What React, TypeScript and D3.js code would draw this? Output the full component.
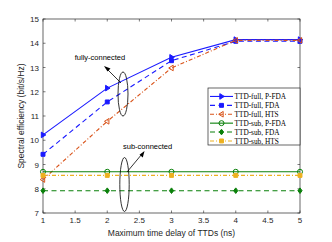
import * as d3 from "d3";

const delays = [1, 2, 3, 4, 5];
const fullPFDA = [10.22, 12.15, 13.42, 14.15, 14.15];
const fullFDA = [9.42, 11.58, 13.28, 14.08, 14.08];
const fullHTS = [8.38, 10.78, 12.98, 14.12, 14.12];
const subPFDA = [8.7, 8.7, 8.7, 8.7, 8.7];
const subFDA = [7.92, 7.92, 7.92, 7.92, 7.92];
const subHTS = [8.55, 8.55, 8.55, 8.55, 8.55];
const xTicks = [1, 1.5, 2, 2.5, 3, 3.5, 4, 4.5, 5];
const yTicks = [7, 8, 9, 10, 11, 12, 13, 14, 15];

type Marker = "triR" | "square" | "triL" | "circle" | "diamond";
const SERIES: { label: string; values: number[]; color: string; dash: string; marker: Marker; filled: boolean }[] = [
  { label: "TTD-full, P-FDA", values: fullPFDA, color: "#1a1aff", dash: "", marker: "triR", filled: true },
  { label: "TTD-full, FDA", values: fullFDA, color: "#1a1aff", dash: "5 3.5", marker: "square", filled: true },
  { label: "TTD-full, HTS", values: fullHTS, color: "#d95319", dash: "4 2 1 2", marker: "triL", filled: false },
  { label: "TTD-sub, P-FDA", values: subPFDA, color: "#0a800a", dash: "", marker: "circle", filled: false },
  { label: "TTD-sub, FDA", values: subFDA, color: "#0a800a", dash: "5 3.5", marker: "diamond", filled: true },
  { label: "TTD-sub, HTS", values: subHTS, color: "#edb120", dash: "4 2 1 2", marker: "square", filled: true },
];

const m = { left: 43, right: 32, top: 19, bottom: 29 };
const W = 332;
const H = 242;

function markerPath(t: Marker, s: number) {
  switch (t) {
    case "triR": return `M${-s * 0.6},${-s}L${s},0L${-s * 0.6},${s}Z`;
    case "triL": return `M${s * 0.6},${-s}L${-s},0L${s * 0.6},${s}Z`;
    case "square": return `M${-s * 0.7},${-s * 0.7}h${s * 1.4}v${s * 1.4}h${-s * 1.4}Z`;
    case "diamond": return `M0,${-s}L${s * 0.75},0L0,${s}L${-s * 0.75},0Z`;
    default: return d3.symbol(d3.symbolCircle, Math.PI * s * s * 0.8)() || "";
  }
}

function Mark({ t, x, y, color, filled }: { t: Marker; x: number; y: number; color: string; filled: boolean }) {
  return (
    <path d={markerPath(t, 2.8)} transform={`translate(${x},${y})`}
      fill={filled ? color : "none"} stroke={color} strokeWidth={1} />
  );
}

export default function App() {
  const x = d3.scaleLinear().domain([1, 5]).range([m.left, W - m.right]);
  const y = d3.scaleLinear().domain([7, 15]).range([H - m.bottom, m.top]);
  const line = d3.line<number>().x((_, i) => x(delays[i])).y(d => y(d));
  const x0 = m.left, x1 = W - m.right, y0 = H - m.bottom, y1 = m.top;
  const axisColor = "#262626";
  const sans = "'Liberation Sans', Arial, sans-serif";
  const serif = "'Liberation Serif', 'Times New Roman', serif";
  const lg = { x: 208, y: 88, w: 92, h: 57, row: 8.9 };

  return (
    <svg width={W} height={H} style={{ position: "absolute", left: 0, top: 0, background: "#fff" }}>
      <rect x={0} y={0} width={W} height={H} fill="#fff" />
      {/* ticks inside the box, on all four sides */}
      {xTicks.map(t => (
        <g key={"x" + t}>
          <line x1={x(t)} x2={x(t)} y1={y0} y2={y0 - 2.5} stroke={axisColor} strokeWidth={0.6} />
          <line x1={x(t)} x2={x(t)} y1={y1} y2={y1 + 2.5} stroke={axisColor} strokeWidth={0.6} />
          <text x={x(t)} y={y0 + 10} textAnchor="middle" fontSize={8} fontFamily={sans} fill={axisColor}>{t}</text>
        </g>
      ))}
      {yTicks.map(t => (
        <g key={"y" + t}>
          <line x1={x0} x2={x0 + 2.5} y1={y(t)} y2={y(t)} stroke={axisColor} strokeWidth={0.6} />
          <line x1={x1} x2={x1 - 2.5} y1={y(t)} y2={y(t)} stroke={axisColor} strokeWidth={0.6} />
          <text x={x0 - 4} y={y(t) + 3} textAnchor="end" fontSize={8} fontFamily={sans} fill={axisColor}>{t}</text>
        </g>
      ))}
      <rect x={x0} y={y1} width={x1 - x0} height={y0 - y1} fill="none" stroke={axisColor} strokeWidth={0.7} />

      {SERIES.map(s => (
        <g key={s.label}>
          <path d={line(s.values) || ""} fill="none" stroke={s.color} strokeWidth={1.1} strokeDasharray={s.dash} />
          {s.values.map((v, i) => (
            <Mark key={i} t={s.marker} x={x(delays[i])} y={y(v)} color={s.color} filled={s.filled} />
          ))}
        </g>
      ))}

      {/* annotations */}
      <ellipse cx={123} cy={94} rx={5} ry={22} fill="none" stroke="#000" strokeWidth={0.8} />
      <line x1={121} y1={83} x2={107} y2={69} stroke="#000" strokeWidth={0.8} />
      <path d="M104,66 L110.5,68.5 L107.5,71.5 Z" fill="#000" />
      <text x={100} y={60} textAnchor="middle" fontSize={7.5} fontFamily={sans} fill="#000">fully-connected</text>

      <ellipse cx={124.5} cy={184.5} rx={4.7} ry={27} fill="none" stroke="#000" strokeWidth={0.8} />
      <line x1={127} y1={172} x2={142} y2={154} stroke="#000" strokeWidth={0.8} />
      <path d="M144.5,151 L142.8,157.5 L139.5,154.8 Z" fill="#000" />
      <text x={123} y={149} fontSize={7.5} fontFamily={sans} fill="#000">sub-connected</text>

      {/* legend */}
      <rect x={lg.x} y={lg.y} width={lg.w} height={lg.h} fill="#fff" stroke={axisColor} strokeWidth={0.7} />
      {SERIES.map((s, i) => {
        const ly = lg.y + 4 + lg.row * (i + 0.5);
        return (
          <g key={"lg" + s.label}>
            <line x1={lg.x + 2} x2={lg.x + 25} y1={ly} y2={ly} stroke={s.color} strokeWidth={1.1} strokeDasharray={s.dash} />
            <Mark t={s.marker} x={lg.x + 13.5} y={ly} color={s.color} filled={s.filled} />
            <text x={lg.x + 26.5} y={ly + 2.7} fontSize={7.3} fontFamily={serif} fill="#000">{s.label}</text>
          </g>
        );
      })}

      <text x={(x0 + x1) / 2} y={236} textAnchor="middle" fontSize={8.5} fontFamily={sans} fill={axisColor}>
        Maximum time delay of TTDs (ns)
      </text>
      <text transform={`translate(24,${(y0 + y1) / 2}) rotate(-90)`} textAnchor="middle" fontSize={8.5} fontFamily={sans} fill={axisColor}>
        Spectral efficiency (bit/s/Hz)
      </text>
    </svg>
  );
}
